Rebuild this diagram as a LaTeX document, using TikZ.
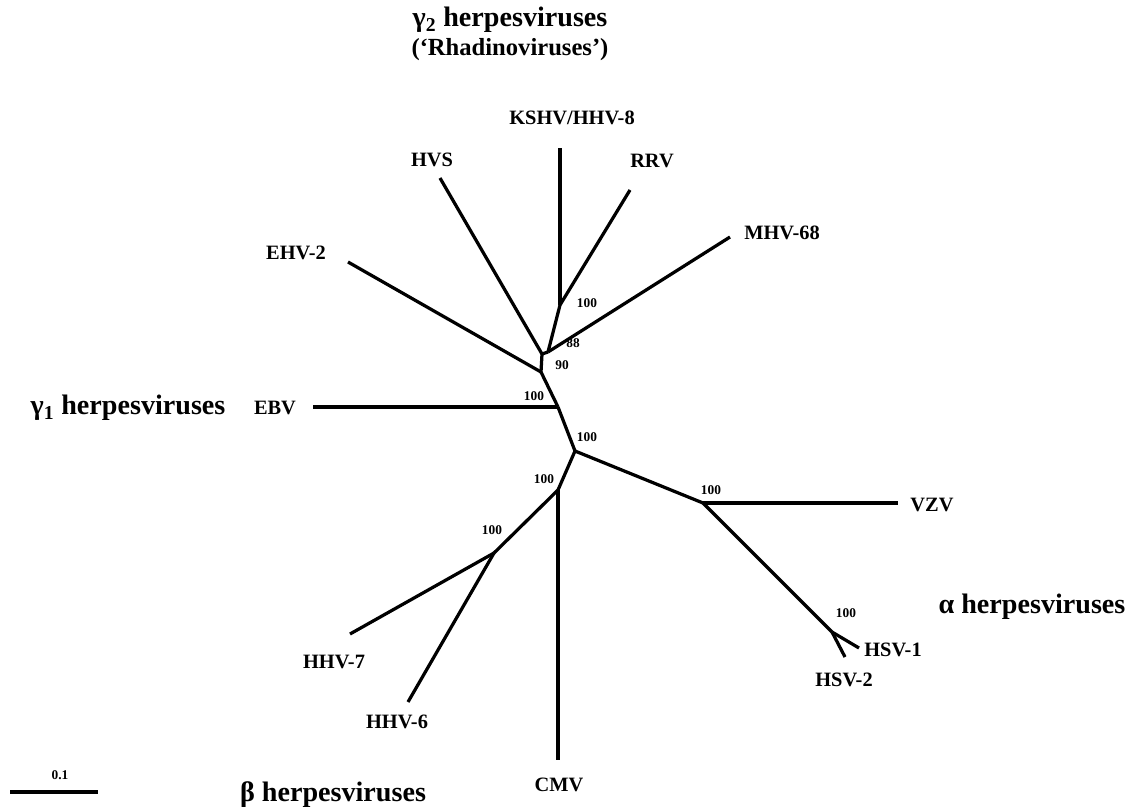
\documentclass[tikz,border=0pt]{standalone}
\usepackage{fontspec}
\setmainfont{Liberation Serif}
\usetikzlibrary{positioning}

\begin{document}
\begin{tikzpicture}[
    x=0.025cm, y=-0.025cm,
    branch/.style={draw=black, line width=2.3pt, line join=round},
    taxon/.style={font=\fontsize{14.5}{16}\selectfont\bfseries, inner sep=0pt},
    group/.style={font=\fontsize{20}{23}\selectfont\bfseries, inner sep=0pt},
    boot/.style={font=\fontsize{9.5}{11}\selectfont\bfseries, inner sep=0pt}
]
    \useasboundingbox (0,0) rectangle (1132,809);

    % Nodi interni dell'albero
    \coordinate (nA) at (560,305);
    \coordinate (nB) at (548,352);
    \coordinate (nC) at (542,354);
    \coordinate (nD) at (541,372);
    \coordinate (nE) at (558,407);
    \coordinate (nF) at (575,451);
    \coordinate (nG) at (703,503);
    \coordinate (nH) at (832,632);
    \coordinate (nI) at (558,490);
    \coordinate (nJ) at (494,553);

    % Foglie
    \coordinate (kshv) at (560,148);
    \coordinate (rrv)  at (630,190);
    \coordinate (mhv)  at (730,237);
    \coordinate (hvs)  at (440,178);
    \coordinate (ehv)  at (348,262);
    \coordinate (ebv)  at (313,407);
    \coordinate (vzv)  at (898,503);
    \coordinate (hsva) at (859,648);
    \coordinate (hsvb) at (845,657);
    \coordinate (cmv)  at (558,760);
    \coordinate (hhvs) at (350,634);
    \coordinate (hhvx) at (408,702);

    % Rami
    \draw[branch] (kshv) -- (nA);
    \draw[branch] (rrv) -- (nA);
    \draw[branch] (nA) -- (nB);
    \draw[branch] (mhv) -- (nB);
    \draw[branch] (nB) -- (nC);
    \draw[branch] (hvs) -- (nC);
    \draw[branch] (nC) -- (nD);
    \draw[branch] (ehv) -- (nD);
    \draw[branch] (nD) -- (nE);
    \draw[branch] (ebv) -- (nE);
    \draw[branch] (nE) -- (nF);
    \draw[branch] (nF) -- (nG);
    \draw[branch] (nG) -- (vzv);
    \draw[branch] (nG) -- (nH);
    \draw[branch] (nH) -- (hsva);
    \draw[branch] (nH) -- (hsvb);
    \draw[branch] (nF) -- (nI);
    \draw[branch] (nI) -- (cmv);
    \draw[branch] (nI) -- (nJ);
    \draw[branch] (nJ) -- (hhvs);
    \draw[branch] (nJ) -- (hhvx);

    % Nomi dei virus
    \node[taxon] (tkshv) at (572,118) {KSHV/HHV-8};
    \node[taxon] (trrv)  at (652,161) {RRV};
    \node[taxon] (tmhv)  at (782,233) {MHV-68};
    \node[taxon] (thvs)  at (432,160) {HVS};
    \node[taxon] (tehv)  at (296,253) {EHV-2};
    \node[taxon] (tebv)  at (275,408) {EBV};
    \node[taxon] (tvzv)  at (932,505) {VZV};
    \node[taxon] (thsva) at (893,650) {HSV-1};
    \node[taxon] (thsvb) at (844,680) {HSV-2};
    \node[taxon] (tcmv)  at (559,785) {CMV};
    \node[taxon] (thhvs) at (334,662) {HHV-7};
    \node[taxon] (thhvx) at (397,722) {HHV-6};

    % Valori di bootstrap
    \node[boot] (bA) at (587,303) {100};
    \node[boot] (bB) at (573,343) {88};
    \node[boot] (bD) at (562,365) {90};
    \node[boot] (bE) at (534,396) {100};
    \node[boot] (bF) at (587,437) {100};
    \node[boot] (bI) at (544,479) {100};
    \node[boot] (bJ) at (492,530) {100};
    \node[boot] (bG) at (711,490) {100};
    \node[boot] (bH) at (846,613) {100};

    % Gruppi
    \node[group] (gtwo) at (510,20) {γ\textsubscript{2} herpesviruses};
    \node[group, font=\fontsize{17.5}{20}\selectfont\bfseries] (grhad) at (510,50) {(‘Rhadinoviruses’)};
    \node[group] (gone) at (128,408) {γ\textsubscript{1} herpesviruses};
    \node[group] (galpha) at (1032,607) {α herpesviruses};
    \node[group] (gbeta) at (333,795) {β herpesviruses};

    % Scala
    \coordinate (sbL) at (10,792);
    \coordinate (sbR) at (98,792);
    \draw[branch] (sbL) -- (sbR);
    \node[boot] (tscale) at (60,775) {0.1};
\end{tikzpicture}
\end{document}
